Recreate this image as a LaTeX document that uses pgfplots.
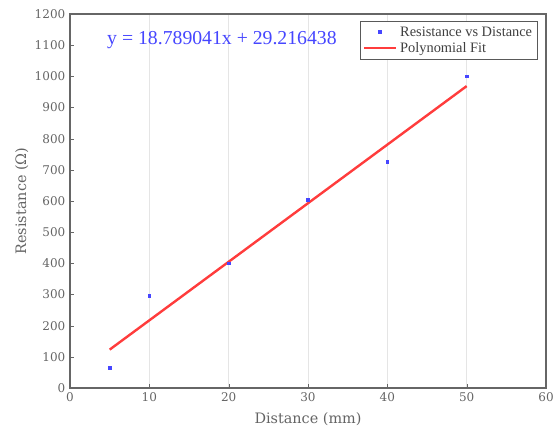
\documentclass[border=0pt]{standalone}
\usepackage{fontspec}
\setmainfont{Liberation Serif}
\newfontfamily\dvs{DejaVu Serif}
\usepackage{pgfplots}
\pgfplotsset{compat=1.18}
\definecolor{txtgray}{RGB}{100,100,100}
\definecolor{ptblue}{RGB}{70,70,255}
\definecolor{fitred}{RGB}{255,60,60}
\pgfplotsset{
  ptlegend/.style={legend image code/.code={\draw[##1] plot coordinates {(0.425cm,0cm)};}},
  linelegend/.style={legend image code/.code={\draw[##1] (0cm,0cm) -- (0.85cm,0cm);}},
}
\begin{document}
\begin{tikzpicture}
\begin{axis}[
  scale only axis,
  width=357pt, height=280.5pt,
  xmin=0, xmax=60, ymin=0, ymax=1200,
  xtick={0,10,...,60}, ytick={0,100,...,1200},
  xmajorgrids, grid style={gray!20, line width=0.6pt},
  tick align=inside, tick pos=left,
  major tick length=3pt,
  axis line style={gray!80!black, line width=0.8pt},
  tick style={gray!80!black},
  ticklabel style={font=\dvs\fontsize{9}{10}\selectfont, text=txtgray},
  /pgf/number format/assume math mode=true,
  /pgf/number format/1000 sep={},
  xlabel={Distance (mm)}, ylabel={Resistance (Ω)},
  label style={font=\dvs\fontsize{10.8}{12}\selectfont, text=txtgray},
  xlabel style={yshift=-1pt},
  ylabel style={yshift=-2pt},
  legend style={at={(1,1)}, anchor=north east, xshift=-6pt, yshift=-5pt,
    font=\fontsize{10.8}{11}\selectfont,
    draw=gray!70!black, inner sep=2pt, row sep=-1pt, line width=0.8pt, text=black!75,
    /tikz/every even column/.append style={column sep=1pt}},
  legend cell align=left,
]
\addplot[only marks, mark=square*, mark size=1pt, color=ptblue, ptlegend] coordinates {
(5,65) (10,295) (20,400) (30,605) (40,725) (50,1000)};
\addlegendentry{Resistance vs Distance}
\addplot[fitred, line width=1.8pt, linelegend] coordinates {(5,123.16) (50,968.67)};
\addlegendentry{Polynomial Fit}
\node[anchor=west, text=ptblue, font=\fontsize{14.8}{16}\selectfont] at (axis cs:4.1,1116) {y = 18.789041x + 29.216438};
\end{axis}
\pgfresetboundingbox
\useasboundingbox ([shift={(-52.5pt,-33pt)}]current axis.south west) rectangle ([shift={(6pt,10.5pt)}]current axis.north east);
\end{tikzpicture}
\end{document}
